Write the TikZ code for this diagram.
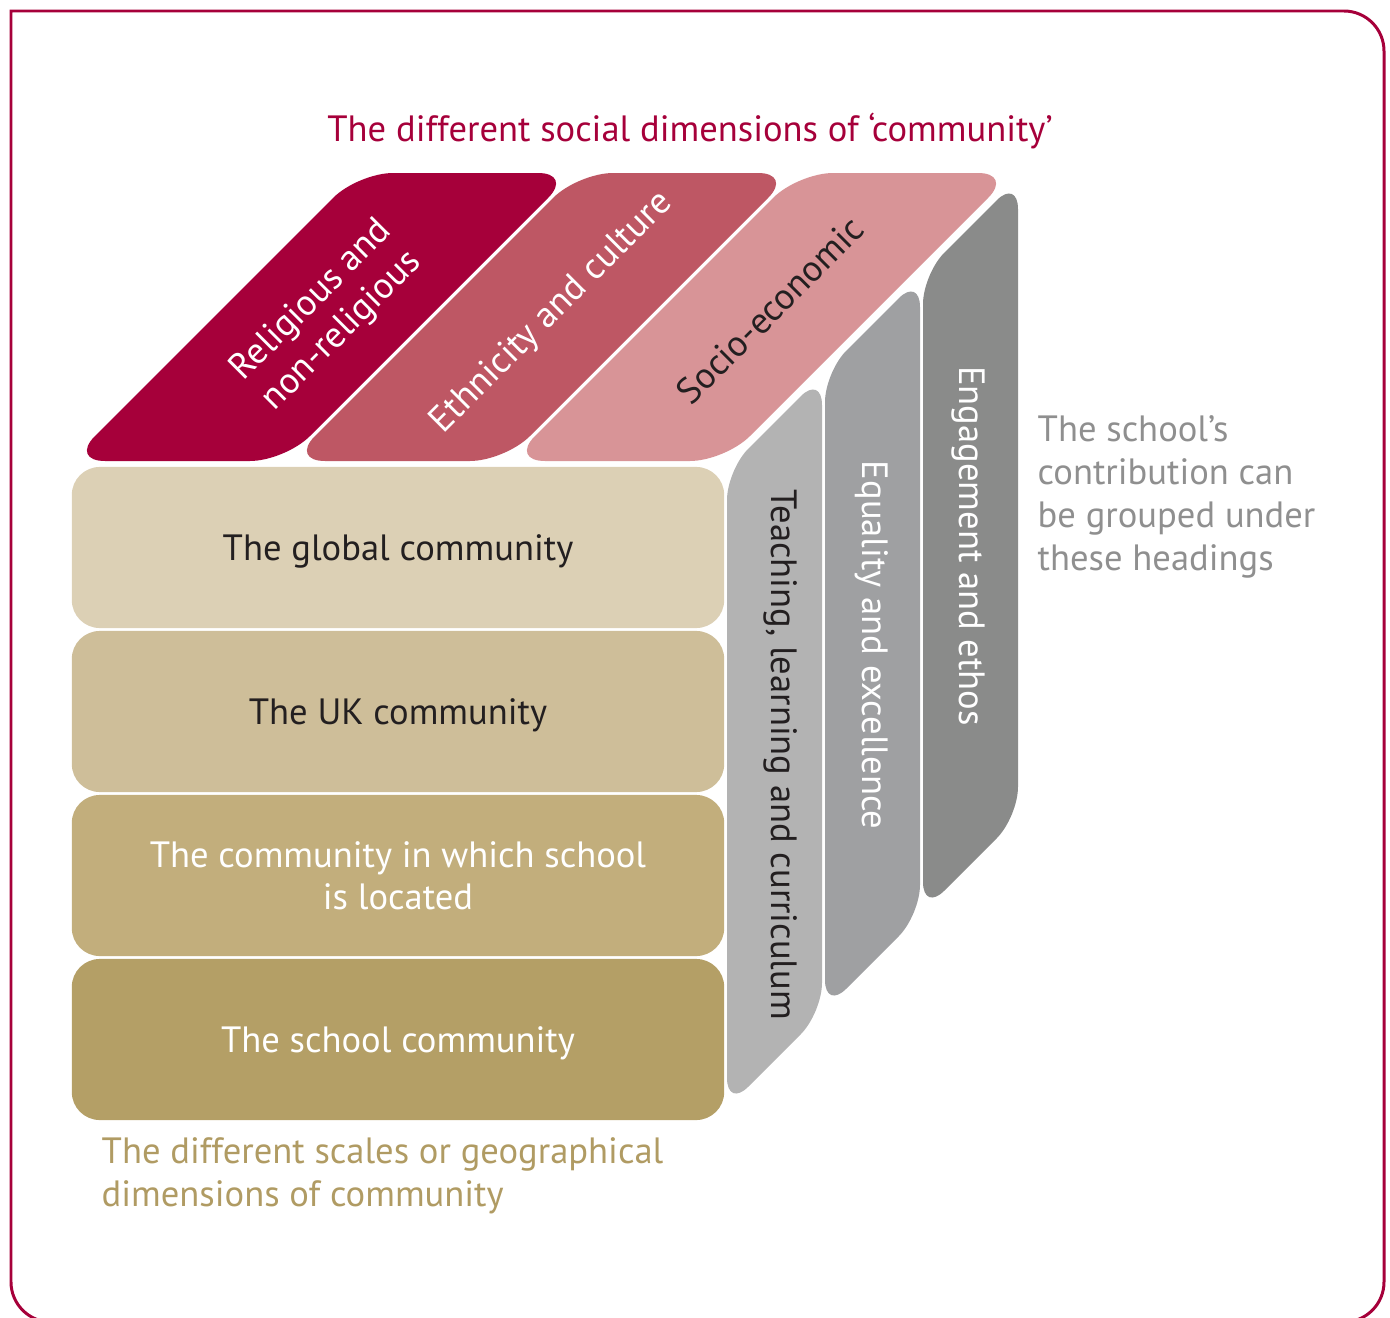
\documentclass[tikz,border=0pt]{standalone}
\usepackage{fontspec}
\setmainfont{PT Sans}
\usepackage{xcolor}
\usetikzlibrary{positioning}
\definecolor{crimson}{HTML}{A6003A}
\definecolor{tileA}{HTML}{A6003A}
\definecolor{tileB}{HTML}{BE5764}
\definecolor{tileC}{HTML}{D89497}
\definecolor{slabA}{HTML}{B3B3B3}
\definecolor{slabB}{HTML}{9FA0A2}
\definecolor{slabC}{HTML}{8A8B8A}
\definecolor{rowA}{HTML}{DCD0B5}
\definecolor{rowB}{HTML}{CEBE99}
\definecolor{rowC}{HTML}{C2AE7C}
\definecolor{rowD}{HTML}{B49F66}
\definecolor{tantext}{HTML}{B09B63}
\definecolor{headgray}{HTML}{8F8F8F}
\definecolor{ink}{HTML}{231F20}
\newcommand{\diafont}{\fontsize{10.4}{12.2}\selectfont}
\tikzset{%
	scalebox/.style = {rectangle, rounded corners=0.28cm, minimum width=6.52cm, minimum height=1.61cm, inner sep=0pt, text depth=0pt, align=center, font=\diafont}, % row of the cube
	tile/.style     = {rounded corners=0.35cm}, % top face
	slab/.style     = {rounded corners=0.3cm}, % side face
	tiletext/.style = {rotate=45, align=center, font=\diafont},
	slabtext/.style = {rotate=-90, font=\diafont},
	caption/.style  = {align=left, inner sep=0pt, font=\diafont},
}

\begin{document}
\begin{tikzpicture}[x=0.01cm, y=-0.01cm]
	\useasboundingbox (0,0) rectangle (1390,1318);
	\draw[crimson, line width=0.85pt, line cap=rect, rounded corners=0.4cm] (11,11) -- (1384,11) -- (1384,1322) -- (11,1322) -- (11,11);
	
	\node[crimson, font=\diafont] (title) at (690,131) {The different social dimensions of ‘community’};
	
	% top face
	\fill[tileA, tile] (70,461) -- (285,461) -- (573,173) -- (358,173) -- cycle;
	\fill[tileB, tile] (290,461) -- (505,461) -- (793,173) -- (578,173) -- cycle;
	\fill[tileC, tile] (510,461) -- (725,461) -- (1013,173) -- (798,173) -- cycle;
	\node[tiletext, text=white] (religious) at (327,316) {Religious and\\non-religious};
	\node[tiletext, text=white] (ethnicity) at (552,313) {Ethnicity and culture};
	\node[tiletext, text=ink] (socio) at (770,310) {Socio-economic};
	
	% front face
	\node[scalebox, fill=rowA, text=ink] (global) at (398,547.5) {The global community};
	\node[scalebox, fill=rowB, text=ink, below=0.015cm of global] (uk) {The UK community};
	\node[scalebox, fill=rowC, text=white, below=0.015cm of uk] (local) {The community in which school\\is located};
	\node[scalebox, fill=rowD, text=white, below=0.015cm of local] (school) {The school community};
	
	% side face
	\fill[slabA, slab] (727,470) -- (822,375) -- (822,1013) -- (727,1108) -- cycle;
	\fill[slabB, slab] (825,372) -- (920,277) -- (920,915) -- (825,1010) -- cycle;
	\fill[slabC, slab] (923,274) -- (1018,179) -- (1018,817) -- (923,912) -- cycle;
	\node[slabtext, text=ink] (teaching) at (781,755) {Teaching, learning and curriculum};
	\node[slabtext, text=white] (equality) at (872,645) {Equality and excellence};
	\node[slabtext, text=white] (engagement) at (968,546) {Engagement and ethos};
	
	\node[caption, text=headgray, anchor=west] (headings) at (1037,497) {The school’s\\contribution can\\be grouped under\\these headings};
	\node[caption, text=tantext, anchor=west] (scales) at (101,1176) {The different scales or geographical\\dimensions of community};
\end{tikzpicture}
\end{document}
